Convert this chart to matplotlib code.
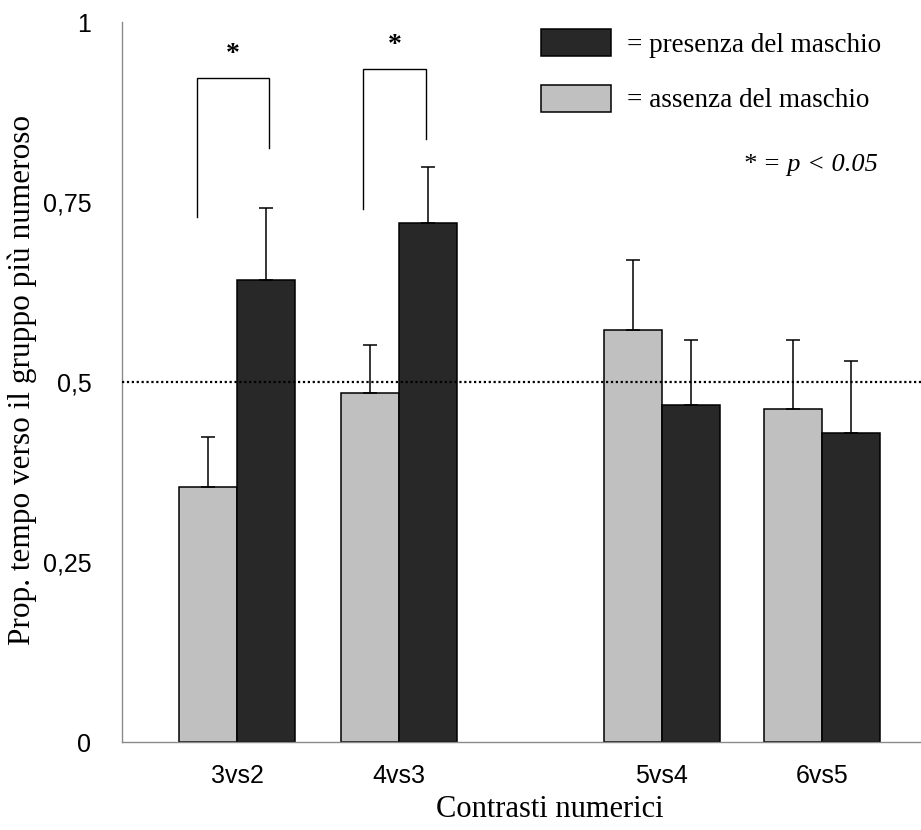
import matplotlib
matplotlib.use("Agg")
import matplotlib.pyplot as plt
from matplotlib.patches import Patch
from matplotlib.ticker import FixedLocator, FixedFormatter
import numpy as np

# ---- data -------------------------------------------------------------
categories = ["3vs2", "4vs3", "5vs4", "6vs5"]
assenza = [0.354, 0.485, 0.572, 0.4625]          # female alone
assenza_err = [0.069, 0.066, 0.098, 0.096]
presenza = [0.641, 0.721, 0.4685, 0.429]         # male present
presenza_err = [0.100, 0.077, 0.090, 0.100]
chance_level = 0.5
yticks = [0, 0.25, 0.5, 0.75, 1]
ytick_labels = ["0", "0,25", "0,5", "0,75", "1"]
legend_labels = ["= presenza del maschio", "= assenza del maschio"]

# significance brackets: (x_left, x_right, y_top, y_left_end, y_right_end)
brackets = [(-0.249, 0.198, 0.922, 0.729, 0.825),
            (0.778, 1.167, 0.935, 0.740, 0.8375)]

# ---- layout / style ---------------------------------------------------
group_x = np.array([0.0, 1.0, 2.623, 3.611])
bar_w = 0.356
LIGHT = "#c0c0c0"
DARK = "#282828"
SERIF = ["Liberation Serif", "DejaVu Serif"]
SANS = ["Liberation Sans", "DejaVu Sans"]

fig = plt.figure(figsize=(9.21, 8.30), dpi=100)
ax = fig.add_axes([122 / 921, 1 - 742 / 830, (921 - 122) / 921, 720 / 830])

err_kw = dict(ecolor="black", elinewidth=1.1, capsize=5, capthick=1.1)
ax.bar(group_x - bar_w / 2, assenza, bar_w, color=LIGHT, edgecolor="black",
       linewidth=1.1, yerr=[np.zeros(len(assenza)), assenza_err],
       error_kw=err_kw, zorder=2)
ax.bar(group_x + bar_w / 2, presenza, bar_w, color=DARK, edgecolor="black",
       linewidth=1.1, yerr=[np.zeros(len(presenza)), presenza_err],
       error_kw=err_kw, zorder=2)

ax.axhline(chance_level, color="black", linestyle=(0, (1, 1.2)), linewidth=1.6,
           zorder=3, clip_on=False)

# significance brackets with asterisks
for xl, xr, yt, yl, yr in brackets:
    ax.plot([xl, xl, xr, xr], [yl, yt, yt, yr], color="black", linewidth=1.0,
            solid_joinstyle="miter", zorder=3)
    ax.text((xl + xr) / 2, yt + 0.024, "*", ha="center", va="baseline",
            fontsize=20, fontweight="bold", family=SERIF)

fig.text(878 / 921, 1 - 165 / 830, "* = p < 0.05", ha="right", va="center",
         fontsize=19, style="italic", family=SERIF)

# axes
ax.set_xlim(-0.710, 4.222)
ax.set_ylim(0, 1)
ax.xaxis.set_major_locator(FixedLocator(group_x))
ax.xaxis.set_major_formatter(FixedFormatter(categories))
ax.yaxis.set_major_locator(FixedLocator(yticks))
ax.yaxis.set_major_formatter(FixedFormatter(ytick_labels))
ax.tick_params(axis="both", length=0, labelsize=18)
ax.tick_params(axis="x", pad=16)
ax.tick_params(axis="y", pad=22)
for lab in ax.get_xticklabels() + ax.get_yticklabels():
    lab.set_family(SANS)

for side in ("top", "right"):
    ax.spines[side].set_visible(False)
for side in ("left", "bottom"):
    ax.spines[side].set_color("#8a8a8a")
    ax.spines[side].set_linewidth(1.0)

# axis titles
fig.text(550 / 921, 1 - 809 / 830, "Contrasti numerici", ha="center",
         va="center", fontsize=22, family=SERIF)
fig.text(22 / 921, 1 - 380 / 830, "Prop. tempo verso il gruppo più numeroso",
         ha="center", va="center", rotation=90, fontsize=22.5, family=SERIF)

# legend
handles = [Patch(facecolor=DARK, edgecolor="black", linewidth=1.1),
           Patch(facecolor=LIGHT, edgecolor="black", linewidth=1.1)]
fig.legend(handles, legend_labels, loc="upper left",
           bbox_to_anchor=(540.7 / 921, 1 - 29 / 830),
           bbox_transform=fig.transFigure, frameon=False, borderpad=0,
           borderaxespad=0, handlelength=2.6, handleheight=1.15,
           handletextpad=0.6, labelspacing=1.0,
           prop=dict(family=SERIF, size=19.5))

fig.savefig("out.png", dpi=100)
